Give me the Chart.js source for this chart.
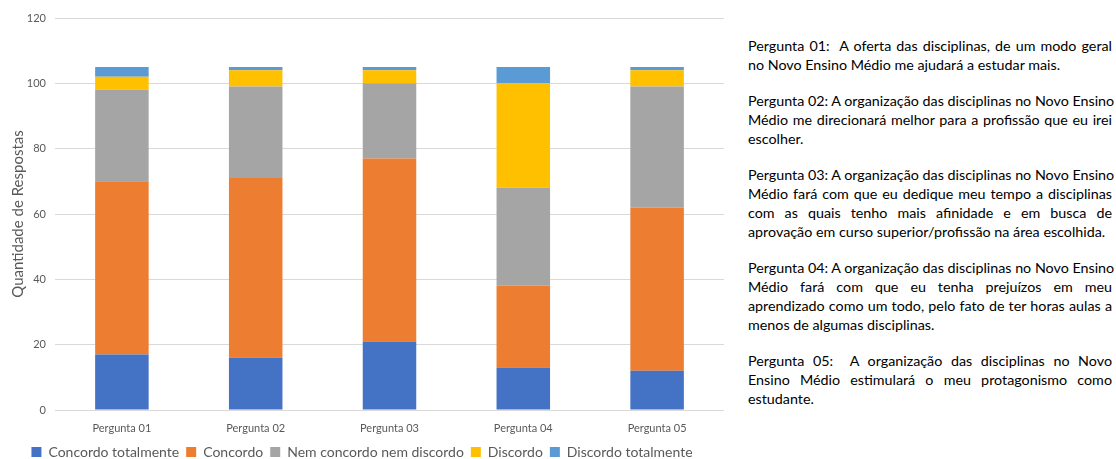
<!DOCTYPE html>
<html>
<head>
<meta charset="utf-8">
<script src="https://cdn.jsdelivr.net/npm/chart.js@4"></script>
<style>
  body { margin: 0; background: #fff; width: 1116px; height: 459px; position: relative; overflow: hidden; }
  #wrap { position: absolute; left: 0; top: 0; width: 735px; height: 469px; }
  #notes {
    position: absolute; left: 748px; top: 36px; width: 364px;
    font-family: Lato, "Noto Sans", sans-serif; font-size: 14.3px; line-height: 19px;
    color: #000; white-space: nowrap;
  }
  #notes p { margin: 0 0 17px 0; }
  #notes span { display: block; text-align: justify; text-align-last: justify; }
  #notes span.fim { text-align-last: left; }
</style>
</head>
<body>
<div id="wrap"><canvas id="respostas"></canvas></div>
<div id="notes">
  <p><span>Pergunta 01:&nbsp; A oferta das disciplinas, de um modo geral</span><span class="fim">no Novo Ensino Médio me ajudará a estudar mais.</span></p>
  <p><span>Pergunta 02: A organização das disciplinas no Novo Ensino</span><span>Médio me direcionará melhor para a profissão que eu irei</span><span class="fim">escolher.</span></p>
  <p><span>Pergunta 03: A organização das disciplinas no Novo Ensino</span><span>Médio fará com que eu dedique meu tempo a disciplinas</span><span>com as quais tenho mais afinidade e em busca de</span><span class="fim">aprovação em curso superior/profissão na área escolhida.</span></p>
  <p><span>Pergunta 04: A organização das disciplinas no Novo Ensino</span><span>Médio fará com que eu tenha prejuízos em meu</span><span>aprendizado como um todo, pelo fato de ter horas aulas a</span><span class="fim">menos de algumas disciplinas.</span></p>
  <p><span>Pergunta 05:&nbsp; A organização das disciplinas no Novo</span><span>Ensino Médio estimulará o meu protagonismo como</span><span class="fim">estudante.</span></p>
</div>
<script>
const perguntas = ['Pergunta 01', 'Pergunta 02', 'Pergunta 03', 'Pergunta 04', 'Pergunta 05'];
const concordoTotalmente = [17, 16, 21, 13, 12];
const concordo = [53, 55, 56, 25, 50];
const nemConcordoNemDiscordo = [28, 28, 23, 30, 37];
const discordo = [4, 5, 4, 32, 5];
const discordoTotalmente = [3, 1, 1, 5, 1];

const cores = ['#4472C4', '#ED7D31', '#A5A5A5', '#FFC000', '#5B9BD5'];
const nomes = ['Concordo totalmente', 'Concordo', 'Nem concordo nem discordo', 'Discordo', 'Discordo totalmente'];
const series = [concordoTotalmente, concordo, nemConcordoNemDiscordo, discordo, discordoTotalmente];

const fonte = 'Lato, "Noto Sans", sans-serif';

new Chart(document.getElementById('respostas'), {
  type: 'bar',
  data: {
    labels: perguntas,
    datasets: series.map((d, i) => ({
      label: nomes[i],
      data: d,
      backgroundColor: cores[i],
      borderWidth: 0,
      barPercentage: 0.4,
      categoryPercentage: 1
    }))
  },
  options: {
    responsive: true,
    maintainAspectRatio: false,
    animation: false,
    layout: { padding: { top: 18, right: 11, left: 0, bottom: 0 } },
    plugins: {
      tooltip: { enabled: false },
      legend: {
        position: 'bottom',
        labels: {
          boxWidth: 10, boxHeight: 10, padding: 7,
          color: '#595959',
          font: { family: fonte, size: 14 }
        }
      }
    },
    scales: {
      x: {
        stacked: true,
        grid: { display: false, drawTicks: false },
        border: { display: false },
        ticks: { color: '#595959', font: { family: fonte, size: 11 }, padding: 12 },
        afterFit: s => { s.height = 28; }
      },
      y: {
        stacked: true,
        min: 0, max: 120,
        ticks: { stepSize: 20, color: '#595959', font: { family: fonte, size: 11 }, padding: 9 },
        grid: { color: '#d9d9d9', drawTicks: false },
        border: { display: false },
        title: { display: true, text: 'Quantidade de Respostas', color: '#595959', font: { family: fonte, size: 15 }, padding: { top: 9, bottom: 0 } },
        afterFit: s => { s.width = 55; }
      }
    }
  }
});
</script>
</body>
</html>
